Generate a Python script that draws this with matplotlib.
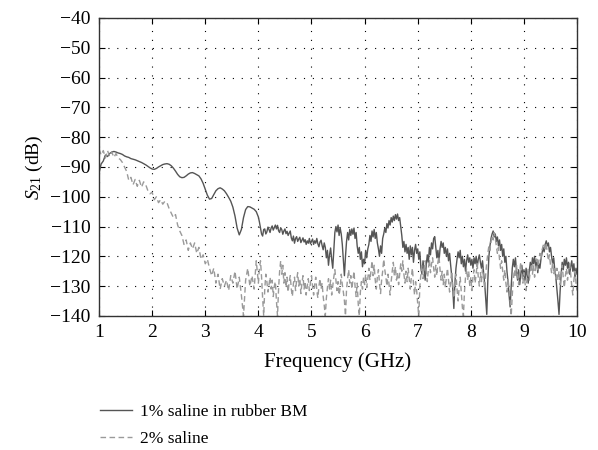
import numpy as np
import matplotlib
matplotlib.use("Agg")
import matplotlib.pyplot as plt

plt.rcParams['font.family'] = ['Liberation Serif', 'DejaVu Serif']
plt.rcParams['mathtext.fontset'] = 'custom'
plt.rcParams['mathtext.rm'] = 'Liberation Serif'
plt.rcParams['mathtext.it'] = 'Liberation Serif:italic'

# 1.00 - 3.96 GHz (0.04 GHz step)
rubber_low = [
    -92, -89, -88, -86, -86.5, -85.5, -85, -84.8, -85, -85.3,
    -85.5, -85.8, -86.3, -86.6, -86.8, -87.2, -87.4, -87.6, -87.9, -88.2,
    -88.5, -88.9, -89.3, -89.8, -90.3, -90.7, -90.8, -90.5, -90.0, -89.6,
    -89.2, -89.0, -88.9, -89.1, -89.6, -90.4, -91.4, -92.5, -93.3, -93.6,
    -93.5, -93.0, -92.4, -92.0, -91.9, -92.2, -92.6, -93.0, -94.0, -95.5,
    -97.5, -99.5, -100.8, -100.6, -99.3, -98.0, -97.3, -97.0, -97.4, -98.0,
    -99.0, -100.2, -101.5, -103.5, -106.5, -110.5, -112.8, -111.0, -107.0, -104.3,
    -103.3, -103.4, -103.8, -104.2, -105.0,
]
# 4.00 - 10.00 GHz (0.02 GHz step)
rubber_high = [
    -106.8, -108.5, -110.5, -112.5, -113.2, -111.0, -110.8, -112.5, -111.8, -110.2,
    -111.0, -112.0, -110.5, -109.8, -111.2, -110.3, -109.5, -110.8, -109.6, -111.4,
    -112.0, -110.4, -111.0, -112.6, -111.5, -110.8, -112.4, -111.6, -113.0, -112.2,
    -111.5, -113.8, -114.8, -113.2, -115.6, -114.0, -113.4, -115.0, -114.2, -113.6,
    -115.4, -114.6, -113.8, -115.2, -114.4, -116.0, -114.8, -115.6, -114.0, -115.8,
    -115.0,
    -114.2, -116.0, -114.8, -115.6, -114.0, -115.8, -116.8, -115.2, -114.6, -116.4,
    -117.8, -115.5, -117.0, -120.5, -118.0, -123.0, -119.5, -117.2, -121.0, -124.0,
    -118.0, -112.0, -110.0, -111.8, -109.5, -113.0, -110.5, -112.5, -116.0, -121.0,
    -126.5, -120.0, -115.0, -112.0, -114.5, -111.0, -113.0, -110.8, -112.6, -110.5,
    -114.0, -112.0, -116.5, -119.0, -117.0, -121.0, -118.5, -123.5, -121.0, -122.5,
    -118.0, -120.5, -117.5, -116.0, -113.0, -115.0, -111.5, -113.5, -111.0, -114.0,
    -112.0, -115.5, -117.5, -120.0, -116.5, -119.0, -114.0, -112.5, -110.5, -112.0,
    -109.0, -110.5, -108.0, -109.5, -107.0, -108.5, -106.5, -108.0, -106.0, -107.5,
    -105.8, -108.0, -107.0, -110.0, -113.0, -117.0, -115.0, -118.5, -116.0, -119.0,
    -117.0, -121.0, -116.5, -119.5, -117.0, -122.0, -118.0, -116.0, -119.0, -117.5,
    -121.0, -118.5, -124.0, -126.0, -121.5, -124.5, -128.0, -123.0, -119.5, -122.0,
    -117.0, -119.5, -115.5, -117.5, -114.0, -113.4, -117.0, -120.5, -118.0, -122.0,
    -117.5, -115.0, -117.0, -115.5, -119.0, -117.0, -120.0, -117.5, -121.5, -119.0,
    -123.0, -126.5, -131.0, -137.5, -129.0, -124.0, -121.0, -118.5, -120.5, -118.0,
    -122.5, -120.0, -123.5, -121.0, -125.0, -121.5, -119.5, -122.0, -120.5, -123.0,
    -121.0, -124.0, -120.5, -122.5, -120.0, -123.5, -121.0, -119.5, -122.0, -124.0,
    -121.5, -125.5, -129.0, -134.0, -139.5, -128.0, -120.0, -116.5, -114.0, -112.5,
    -111.5, -113.5, -112.5, -115.0, -113.5, -116.5, -114.5, -118.0, -116.0, -120.0,
    -117.5, -122.0, -120.0, -125.0, -128.5, -133.0, -137.0, -130.0, -124.0, -121.0,
    -123.5, -120.5, -125.0, -128.0, -124.5, -129.5, -126.0, -123.0, -127.0, -124.5,
    -128.0, -124.0, -126.5, -129.0, -125.0, -122.0, -124.5, -120.5, -122.5, -120.0,
    -123.5, -121.0, -125.5, -122.5, -124.0, -121.0, -119.0, -117.0, -118.5, -116.0,
    -114.8, -116.5, -115.5, -118.5, -117.0, -120.0, -122.5, -120.5, -124.5, -127.0,
    -131.0, -135.0, -139.5, -132.0, -126.0, -122.0, -124.5, -121.0, -123.0, -120.5,
    -124.0, -122.0, -126.0, -123.5, -121.5, -125.0, -122.5, -127.0, -124.0, -126.0,
]

saline_low = [
    -84, -86, -84.5, -87, -84.5, -86.5, -85, -86.8, -85.5, -87,
    -87.5, -88.5, -90, -91.5, -94.5, -93.5, -96, -94.2, -96.5, -94.5,
    -96.8, -95, -96, -98, -99, -98.5, -101, -100, -102, -101,
    -102.5, -101.5, -102, -104, -105.5, -107, -106, -109.5, -111.5, -113,
    -116, -114.5, -118, -115.5, -117.5, -115.5, -119, -117, -121, -119.5,
    -122.5, -121, -124, -126.5, -124, -129, -126, -131, -127.5, -130,
    -128, -131.5, -126.5, -129, -125, -131, -127, -133, -140, -128,
    -124, -130, -126.5, -131, -121.5,
]
saline_high = [
    -129, -124, -121.5, -127, -134, -140, -131, -126, -128.5, -132,
    -129.5, -127, -131, -128, -133.5, -130, -128.5, -135, -140, -131,
    -125, -121.5, -126, -123, -129, -125.5, -130.5, -127, -132, -128.5,
    -126.5, -131, -133.5, -129, -127, -131.5, -128, -125.5, -130, -127.5,
    -132.5, -129, -126.5, -131, -128.5, -133, -130, -127.5, -131.5, -129,
    -126.5,
    -130, -133, -129.5, -127, -131.5, -134, -130, -127.5, -131, -129,
    -133.5, -136.5, -140, -134, -130.5, -127.5, -131, -128, -133, -130,
    -127, -124.5, -128, -131.5, -128.5, -133, -130.5, -126, -129.5, -132,
    -135, -140, -131, -127.5, -124.5, -129, -126.5, -131, -128, -125,
    -130, -133.5, -129, -136, -140, -132, -128.5, -131, -127, -129.5,
    -126, -130.5, -127.5, -124, -128, -125, -121.5, -126.5, -123, -128,
    -131, -127, -124.5, -129, -132.5, -128, -125, -121, -124.5, -127,
    -130, -126, -129.5, -133, -128.5, -125, -122, -126.5, -123.5, -128,
    -125.5, -129.5, -126, -122.5, -125, -121.5, -126, -129, -125, -128.5,
    -124, -127.5, -131, -127, -124, -129, -133, -128.5, -131.5, -136,
    -140, -130, -126, -123, -127.5, -124, -121.5, -125, -128.5, -124.5,
    -121, -125.5, -122.5, -120.5, -124, -127, -123, -126.5, -122, -120,
    -124.5, -128, -125, -129.5, -126, -130.5, -127, -124, -128, -132,
    -128.5, -125, -130, -134, -129, -126, -131, -135, -130.5, -127,
    -132, -137, -140, -132, -127, -124, -128, -125, -130, -127,
    -131.5, -127, -124.5, -129, -126, -122.5, -127, -130, -125.5, -128.5,
    -124, -127.5, -131, -126, -122, -119, -116.5, -118, -115, -113,
    -114.5, -112, -114, -116.5, -119, -117, -121, -124, -121.5, -125,
    -128, -124.5, -129, -132, -127.5, -131, -135, -140, -133, -128,
    -124.5, -127, -123, -126.5, -129.5, -125, -122, -126, -129, -125.5,
    -129, -131.5, -127, -124, -128, -125, -122.5, -126, -123, -127,
    -124, -121, -124.5, -121.5, -119, -121, -118, -116.5, -115.5, -117.5,
    -116, -119, -121.5, -119.5, -123, -125.5, -122, -126, -123.5, -127.5,
    -124, -128, -125, -129.5, -126, -123, -127, -130.5, -126.5, -124,
    -128, -125, -122.5, -126, -130, -133, -128, -125, -129, -131.5,
]

labels = ["1% saline in rubber BM", "2% saline"]
x_ticks = [1, 2, 3, 4, 5, 6, 7, 8, 9, 10]
y_ticks = [-140, -130, -120, -110, -100, -90, -80, -70, -60, -50, -40]

f1 = np.concatenate([np.linspace(1, 3.96, len(rubber_low)), np.linspace(4, 10, len(rubber_high))])
f2 = np.concatenate([np.linspace(1, 3.96, len(saline_low)), np.linspace(4, 10, len(saline_high))])
s1 = np.array(rubber_low + rubber_high)
s2 = np.array(saline_low + saline_high)

fig = plt.figure(figsize=(5.98, 4.5), dpi=100)
ax = fig.add_axes([0.1656, 0.298, 0.7994, 0.662])

l1, = ax.plot(f1, s1, color='#555555', lw=1.0, label=labels[0])
l2, = ax.plot(f2, s2, color='#9a9a9a', lw=1.0, ls=(0, (4, 2.5)), label=labels[1])

ax.set_xlim(1, 10)
ax.set_ylim(-140, -40)
ax.set_xticks(x_ticks)
ax.set_yticks(y_ticks)
ax.grid(True, color='black', ls=(0, (1, 7)), lw=0.8)
ax.tick_params(direction='in', top=True, right=True, labelsize=14, length=4, width=0.8, pad=6)
for s in ax.spines.values():
    s.set_color('#333333')
    s.set_linewidth(1.0)

ax.set_xlabel('Frequency (GHz)', fontsize=15, labelpad=8)
ax.set_ylabel(r'$S_{21}$ (dB)', fontsize=14, labelpad=4)

fig.legend(handles=[l1, l2], labels=labels, loc='upper left',
           bbox_to_anchor=(0.155, 0.118), frameon=False, fontsize=12.5,
           handlelength=1.85, handletextpad=0.45, labelspacing=0.62, borderaxespad=0)

fig.savefig('out.png', dpi=100)
